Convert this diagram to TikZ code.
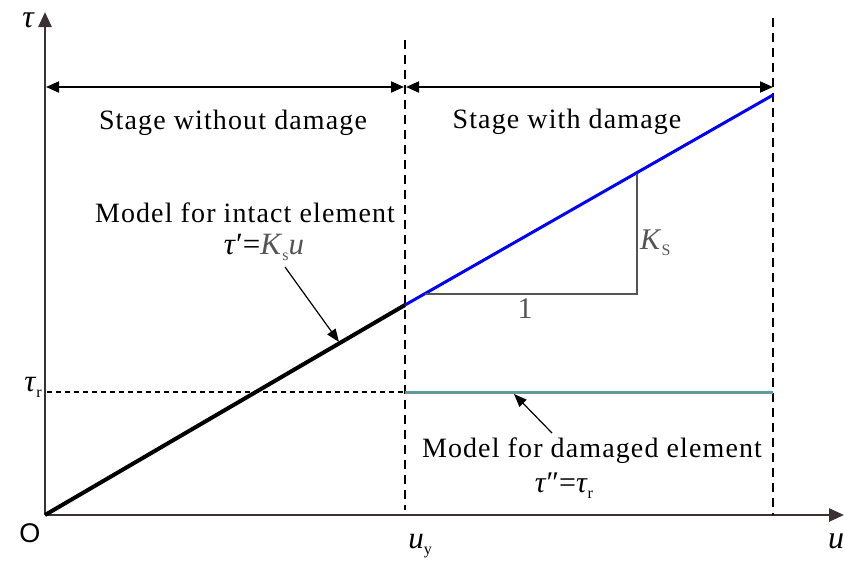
\documentclass[tikz,border=0pt]{standalone}
\usepackage{fontspec}
\setmainfont{Liberation Serif}
\setsansfont{Liberation Sans}
\newfontfamily\spacedserif{Liberation Serif}[LetterSpace=4]
\usetikzlibrary{arrows.meta}

\definecolor{axisgray}{HTML}{3A3232}
\definecolor{tealline}{HTML}{5F9A96}
\definecolor{trigray}{HTML}{555555}

\newcommand{\lowsub}[1]{\raisebox{-6pt}{\fontsize{16}{16}\selectfont #1}}
\newcommand{\bigtxt}{\spacedserif\fontsize{28}{32}\selectfont}

\tikzset{
  axis/.style={line width=2.5pt, draw=axisgray, -{Triangle[length=15pt,width=13pt]}},
  guide/.style={line width=2pt, dash pattern=on 9pt off 6pt},
  stagearrow/.style={line width=2pt, {Triangle[length=13pt,width=11pt]}-{Triangle[length=13pt,width=11pt]}},
  pointer/.style={line width=1.2pt, -{Triangle[length=13pt,width=10pt]}},
  lbl/.style={inner sep=0pt, font=\bigtxt},
  eqlbl/.style={inner sep=0pt, font=\fontsize{31}{31}\selectfont},
}

\begin{document}
\begin{tikzpicture}[x=1pt,y=-1pt]
    \useasboundingbox (0,0) rectangle (844,563);

    % axes
    \coordinate (O) at (45,515);
    \coordinate (Ytop) at (45,12);
    \coordinate (Xend) at (844,515);
    \draw[axis] (O) -- (Ytop);
    \draw[axis] (O) -- (Xend);
    \node[lbl, font=\fontsize{32}{32}\selectfont\itshape] (tau) at (28,20) {τ};
    \node[lbl, font=\fontsize{27}{27}\selectfont\sffamily] (orig) at (30,533) {O};
    \node[eqlbl] (uy) at (420,546) {\textit{u}\lowsub{y}};
    \node[eqlbl, font=\fontsize{32}{32}\selectfont\itshape] (uend) at (836,541) {u};
    \node[eqlbl] (taur) at (33,387) {\textit{τ}\lowsub{r}};

    % stage limits
    \coordinate (Ytopa) at (405,40);
    \coordinate (Ybota) at (405,510);
    \coordinate (Ytopb) at (773,18);
    \coordinate (Ybotb) at (773,515);
    \draw[guide] (Ytopa) -- (Ybota);
    \draw[guide] (Ytopb) -- (Ybotb);

    \coordinate (Sa) at (46,87);
    \coordinate (Sb) at (404,87);
    \coordinate (Sc) at (406,87);
    \coordinate (Sd) at (773,87);
    \draw[stagearrow] (Sa) -- (Sb);
    \draw[stagearrow] (Sc) -- (Sd);
    \node[lbl] (stageA) at (233,123) {Stage without damage};
    \node[lbl] (stageB) at (567,122) {Stage with damage};

    % intact model
    \coordinate (Y) at (405,305);
    \coordinate (E) at (773,95);
    \draw[line width=4pt] (O) -- (Y);
    \draw[line width=3pt, blue] (Y) -- (E);

    % slope triangle
    \coordinate (Ta) at (425,294);
    \coordinate (Tb) at (637,294);
    \coordinate (Tc) at (637,174);
    \draw[line width=1.5pt, trigray] (Ta) -- (Tb) -- (Tc);
    \node[lbl, font=\fontsize{30}{30}\selectfont, text=trigray] (one) at (525,309) {1};
    \node[lbl, font=\fontsize{30}{30}\selectfont, text=trigray, anchor=west] (ks) at (640,243) {\textit{K}\lowsub{S}};

    % residual model
    \coordinate (R) at (405,392);
    \coordinate (Rend) at (773,392);
    \coordinate (Raxis) at (47,392);
    \draw[line width=1.6pt, dash pattern=on 5pt off 4pt] (Raxis) -- (R);
    \draw[line width=3pt, tealline] (R) -- (Rend);

    % labels
    \node[lbl] (intact) at (245,213) {Model for intact element};
    \node[eqlbl] (intacteq) at (264,247) {\textit{τ}′=\textcolor{trigray}{\textit{K}\lowsub{s}\textit{u}}};
    \node[lbl] (damaged) at (592,451) {Model for damaged element};
    \node[eqlbl, font=\fontsize{30}{30}\selectfont] (damagedeq) at (564,486) {\textit{τ}″=\textit{τ}\lowsub{r}};

    \coordinate (Pa) at (285,267);
    \coordinate (Pb) at (339,342);
    \draw[pointer] (Pa) -- (Pb);
    \coordinate (Qa) at (552,433);
    \coordinate (Qb) at (514,394);
    \draw[pointer] (Qa) -- (Qb);
\end{tikzpicture}
\end{document}
